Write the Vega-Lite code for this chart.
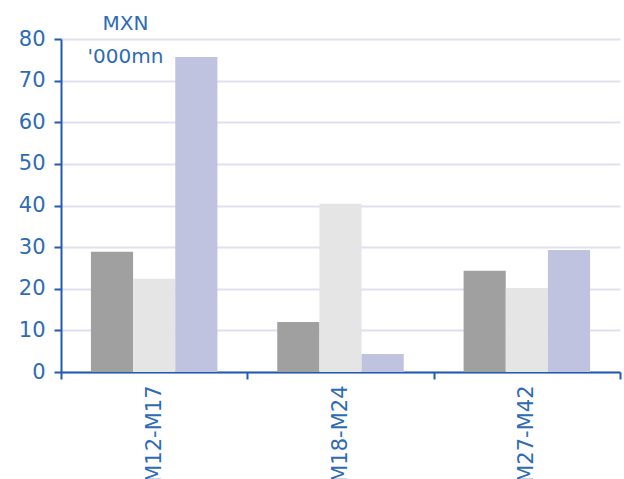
{
  "$schema": "https://vega.github.io/schema/vega-lite/v6.json",
  "autosize": "none",
  "width": 559,
  "height": 333,
  "padding": {"left": 61, "top": 39, "right": 4, "bottom": 107},
  "background": "white",
  "data": {
    "values": [
      {"group": "M12-M17", "series": "A", "value": 28.9},
      {"group": "M12-M17", "series": "B", "value": 22.4},
      {"group": "M12-M17", "series": "C", "value": 75.7},
      {"group": "M18-M24", "series": "A", "value": 12.0},
      {"group": "M18-M24", "series": "B", "value": 40.4},
      {"group": "M18-M24", "series": "C", "value": 4.3},
      {"group": "M27-M42", "series": "A", "value": 24.3},
      {"group": "M27-M42", "series": "B", "value": 20.2},
      {"group": "M27-M42", "series": "C", "value": 29.3}
    ]
  },
  "mark": {"type": "bar"},
  "encoding": {
    "x": {
      "field": "group",
      "type": "nominal",
      "scale": {"paddingInner": 0, "paddingOuter": 0},
      "axis": {
        "title": null,
        "labelAngle": -90,
        "labelFont": "DejaVu Sans",
        "labelFontSize": 21,
        "labelColor": "#2E6BB5",
        "labelPadding": 6,
        "tickBand": "extent",
        "tickSize": 7,
        "tickWidth": 2,
        "tickColor": "#1F5BB0",
        "domainColor": "#1F5BB0",
        "domainWidth": 2,
        "grid": false
      }
    },
    "xOffset": {"field": "series", "type": "nominal", "scale": {"paddingInner": 0, "paddingOuter": 0.71}},
    "y": {
      "field": "value",
      "type": "quantitative",
      "scale": {"domain": [0, 80], "nice": false},
      "axis": {
        "values": [0, 10, 20, 30, 40, 50, 60, 70, 80],
        "title": ["MXN", "'000mn"],
        "titleAngle": 0,
        "titleAlign": "center",
        "titleBaseline": "alphabetic",
        "titleX": 64,
        "titleY": -10,
        "titleLineHeight": 33,
        "titleFont": "DejaVu Sans",
        "titleFontSize": 20,
        "titleFontWeight": "normal",
        "titleColor": "#2E6BB5",
        "labelFont": "DejaVu Sans",
        "labelFontSize": 21,
        "labelColor": "#2E6BB5",
        "labelPadding": 9,
        "tickSize": 7,
        "tickWidth": 2,
        "tickColor": "#1F5BB0",
        "domainColor": "#1F5BB0",
        "domainWidth": 2,
        "grid": true,
        "gridColor": "#E0E0F0",
        "gridWidth": 2
      }
    },
    "color": {
      "field": "series",
      "type": "nominal",
      "scale": {"domain": ["A", "B", "C"], "range": ["#A0A0A0", "#E5E5E5", "#BFC3E0"]},
      "legend": null
    }
  },
  "config": {"view": {"stroke": null}}
}
